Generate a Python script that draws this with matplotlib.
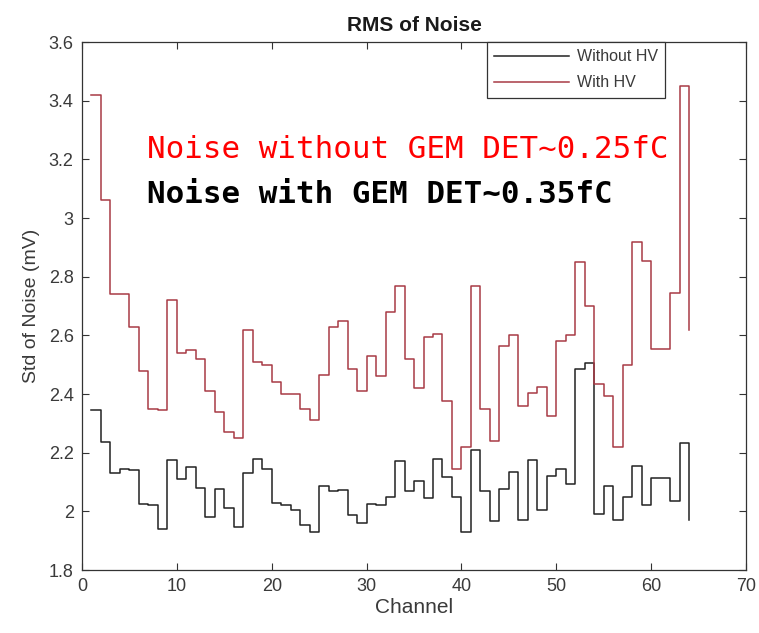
import numpy as np
import matplotlib
matplotlib.use('Agg')
import matplotlib.pyplot as plt

channels = np.arange(1, 65)

# std of noise (mV) per channel
without_hv = [2.345, 2.235, 2.13, 2.145, 2.14, 2.025, 2.02, 1.94, 2.175, 2.11,
              2.15, 2.08, 1.98, 2.075, 2.01, 1.945, 2.13, 2.18, 2.145, 2.027,
              2.02, 2.005, 1.955, 1.93, 2.087, 2.07, 2.073, 1.986, 1.96, 2.024,
              2.02, 2.05, 2.17, 2.07, 2.105, 2.046, 2.18, 2.118, 2.05, 1.93,
              2.21, 2.07, 1.967, 2.077, 2.134, 1.97, 2.175, 2.005, 2.12, 2.143,
              2.094, 2.487, 2.505, 1.99, 2.085, 1.97, 2.05, 2.155, 2.02, 2.113,
              2.113, 2.037, 2.234, 1.97]

with_hv = [3.42, 3.06, 2.74, 2.74, 2.63, 2.48, 2.35, 2.345, 2.72, 2.54,
           2.55, 2.52, 2.41, 2.34, 2.27, 2.25, 2.62, 2.51, 2.50, 2.44,
           2.40, 2.40, 2.35, 2.31, 2.465, 2.63, 2.65, 2.485, 2.41, 2.53,
           2.46, 2.68, 2.77, 2.52, 2.42, 2.595, 2.605, 2.375, 2.145, 2.22,
           2.77, 2.35, 2.24, 2.565, 2.60, 2.36, 2.405, 2.425, 2.325, 2.58,
           2.60, 2.85, 2.70, 2.435, 2.395, 2.22, 2.50, 2.92, 2.855, 2.555,
           2.555, 2.745, 3.45, 2.62]

xticks = [0, 10, 20, 30, 40, 50, 60, 70]
yticks = [1.8, 2.0, 2.2, 2.4, 2.6, 2.8, 3.0, 3.2, 3.4, 3.6]
ytick_labels = ['1.8', '2', '2.2', '2.4', '2.6', '2.8', '3', '3.2', '3.4', '3.6']

plt.rcParams['font.family'] = ['Liberation Sans', 'DejaVu Sans']

fig = plt.figure(figsize=(7.59, 6.33), dpi=100)
ax = fig.add_axes([0.108, 0.0995, 0.875, 0.834])

ax.step(channels, without_hv, where='post', color='#222222', lw=1.1, label='Without HV')
ax.step(channels, with_hv, where='post', color='#a83a45', lw=1.1, label='With HV')

ax.set_xlim(0, 70)
ax.set_ylim(1.8, 3.6)
ax.set_xticks(xticks)
ax.set_yticks(yticks)
ax.set_yticklabels(ytick_labels)
ax.tick_params(direction='in', top=True, right=True, length=5, width=0.8,
               labelsize=13, labelcolor='#3a3a3a', color='#333333', pad=6)
for s in ax.spines.values():
    s.set_color('#333333')
    s.set_linewidth(0.9)

ax.set_title('RMS of Noise', fontsize=15, fontweight='bold', pad=8, color='#1a1a1a')
ax.set_xlabel('Channel', fontsize=15, color='#3a3a3a', labelpad=2)
ax.set_ylabel('Std of Noise (mV)', fontsize=14, color='#3a3a3a', labelpad=6)

leg = ax.legend(loc='upper right', bbox_to_anchor=(0.878, 1.0), borderaxespad=0,
                fancybox=False, framealpha=1, edgecolor='#333333', fontsize=11.5,
                handlelength=4.7, handletextpad=0.5, labelspacing=0.7,
                borderpad=0.45)
leg.get_frame().set_linewidth(0.9)
for t in leg.get_texts():
    t.set_color('#3a3a3a')

ax.text(6.9, 3.206, 'Noise without GEM DET~0.25fC', color='#ff0000',
        fontsize=22.2, family='DejaVu Sans Mono', va='baseline')
ax.text(6.9, 3.052, 'Noise with GEM DET~0.35fC', color='black',
        fontsize=22.2, family='DejaVu Sans Mono', fontweight='bold', va='baseline')

fig.savefig('out.png', dpi=100, facecolor='white')
